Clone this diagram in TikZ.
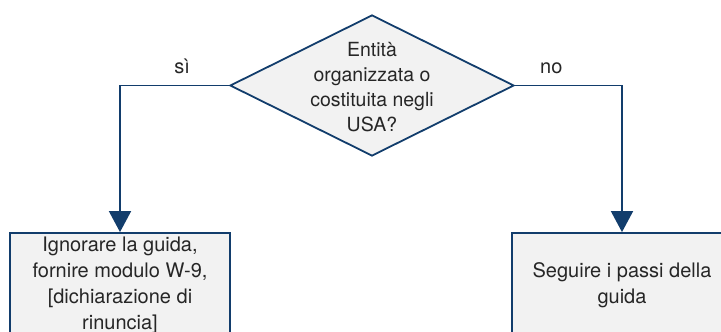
\documentclass[tikz,border=0pt]{standalone}
\usepackage{fontspec}
\setmainfont{TeX Gyre Heros}
\usetikzlibrary{shapes.geometric,arrows.meta}
\definecolor{linkblue}{RGB}{18,61,108}
\definecolor{boxgray}{RGB}{242,242,242}
\definecolor{textgray}{RGB}{38,38,38}
\begin{document}
\begin{tikzpicture}[x=1pt,y=1pt,line width=1.8pt,
  decision node/.style={diamond, aspect=2, draw=linkblue, fill=boxgray, minimum width=284pt, minimum height=141pt, inner sep=0pt},
  step node/.style={rectangle, draw=linkblue, fill=boxgray, minimum width=220pt, minimum height=104pt, align=center, text=textgray},
  flow/.style={draw=linkblue, -{Triangle[length=21pt,width=22pt]}, to path={-| (\tikztotarget) \tikztonodes}}]
        \tikzstyle{every node}=[font=\fontsize{20}{26}\selectfont]
        \useasboundingbox (0,0) rectangle (721,-332);
        \clip (0,0) rectangle (721,-332);

          \node[decision node] (1) at (372,-85.5) {};
          \node[align=center, text=textgray, font=\fontsize{19.5}{25}\selectfont] (1t) at (372,-87) {Entità\\organizzata o\\costituita negli\\USA?};
          \node[step node] (2) at (120,-285) {Ignorare la guida,\\fornire modulo W-9,\\{[}dichiarazione di\\rinuncia{]}};
          \node[step node] (3) at (622,-285) {Seguire i passi della\\guida};

          \path[every node/.style={font=\fontsize{20}{24}\selectfont, text=textgray}]
            (1.west) edge[flow] node [pos=0.215, above, inner sep=11pt] {sì} (2.north)
            (1.east) edge[flow] node [pos=0.17, above, inner sep=11pt] {no} (3.north);

        \end{tikzpicture}
\end{document}
